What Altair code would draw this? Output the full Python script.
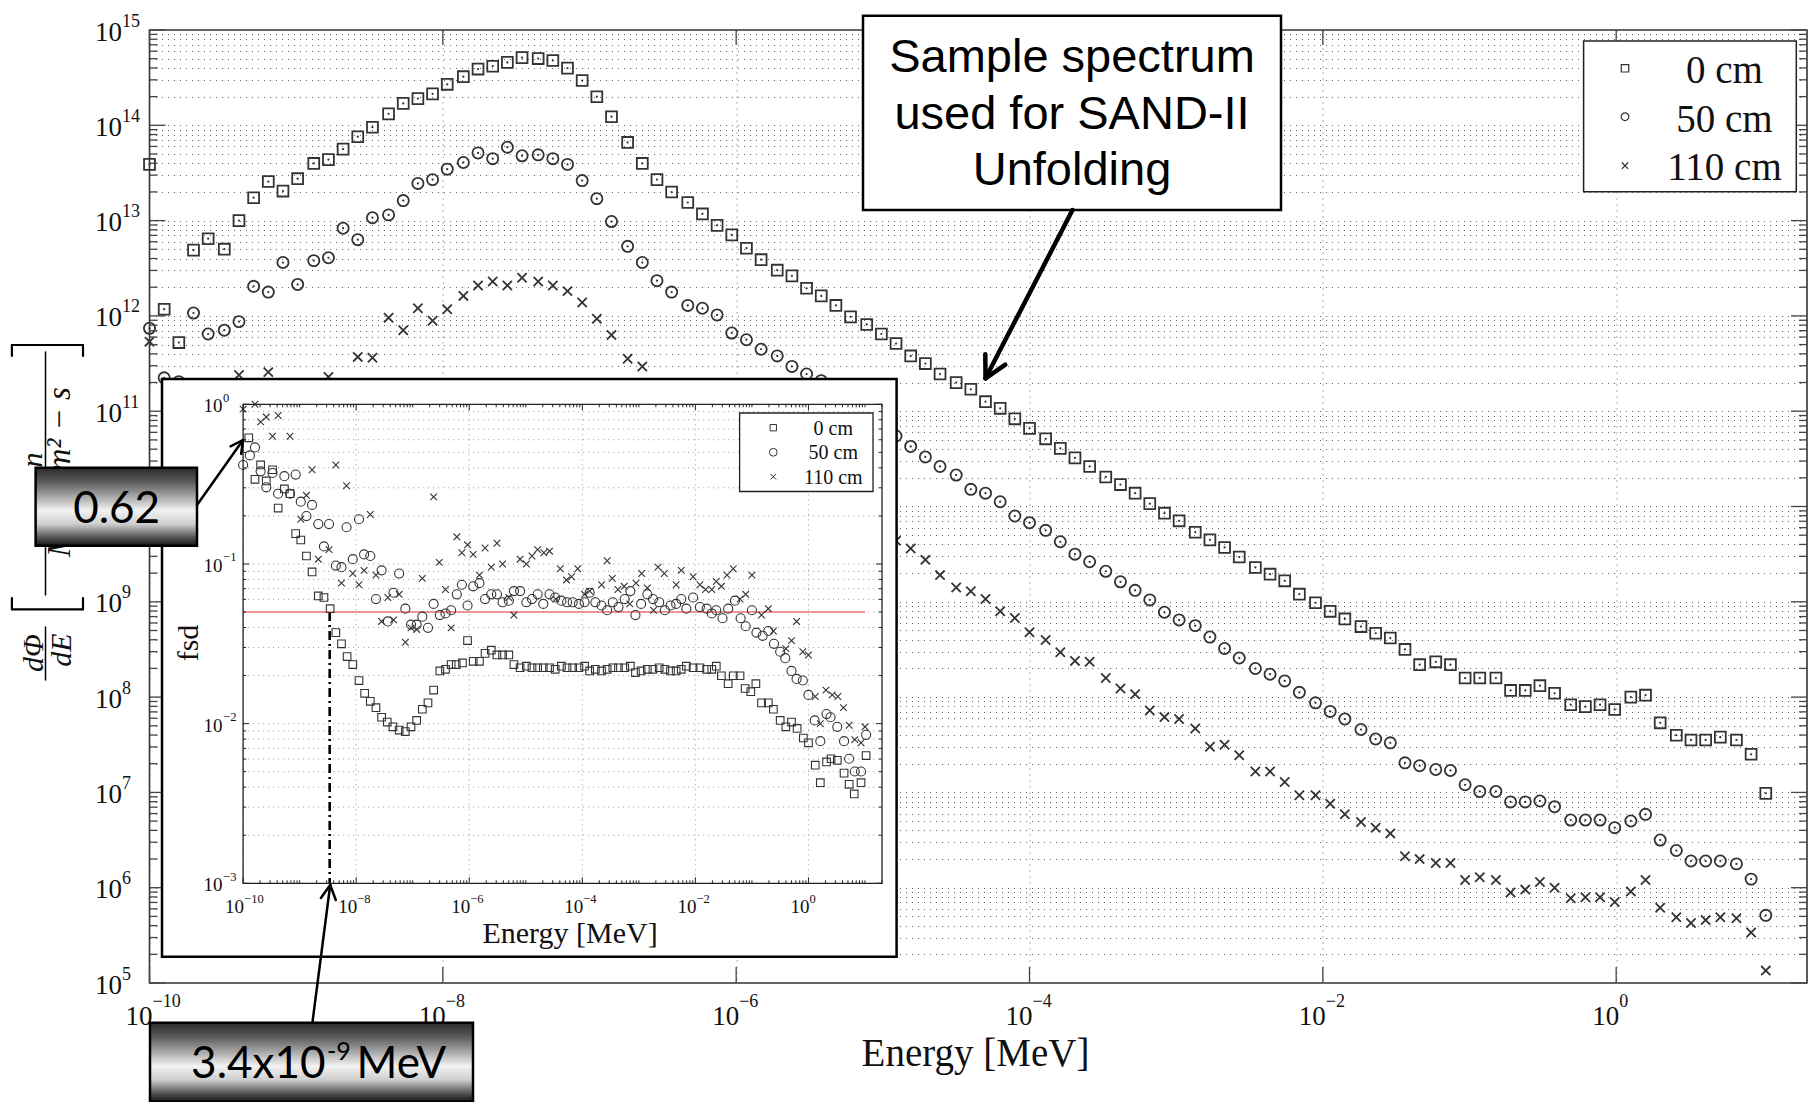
import altair as alt
import pandas as pd

# ---------------- values ----------------
# main spectrum: log10(E / MeV) grid shared by the three series
MAIN_LOG_E = [
    -10.00, -9.90, -9.80, -9.70, -9.60, -9.49, -9.39, -9.29, -9.19, -9.09,
    -8.99, -8.88, -8.78, -8.68, -8.58, -8.48, -8.37, -8.27, -8.17, -8.07,
    -7.97, -7.86, -7.76, -7.66, -7.56, -7.46, -7.35, -7.25, -7.15, -7.05,
    -6.95, -6.85, -6.74, -6.64, -6.54, -6.44, -6.33, -6.23, -6.13, -6.03,
    -5.93, -5.83, -5.72, -5.62, -5.52, -5.42, -5.32, -5.22, -5.11, -5.01,
    -4.91, -4.81, -4.71, -4.61, -4.50, -4.40, -4.30, -4.20, -4.10, -4.00,
    -3.89, -3.79, -3.69, -3.59, -3.48, -3.38, -3.28, -3.18, -3.08, -2.98,
    -2.87, -2.77, -2.67, -2.57, -2.46, -2.36, -2.26, -2.16, -2.05, -1.95,
    -1.85, -1.74, -1.64, -1.54, -1.44, -1.34, -1.23, -1.13, -1.03, -0.93,
    -0.82, -0.72, -0.62, -0.52, -0.42, -0.31, -0.21, -0.11, -0.01, 0.10,
    0.20, 0.30, 0.41, 0.51, 0.61, 0.71, 0.82, 0.92, 1.02,
]
# log10 of dPhi/dE ; None = hidden behind the inset
MAIN_LOG_0CM = [
    13.59, 12.07, 11.72, 12.69, 12.81, 12.70, 13.00, 13.24, 13.41, 13.31,
    13.44, 13.60, 13.64, 13.75, 13.88, 13.98, 14.12, 14.23, 14.28, 14.33,
    14.43, 14.51, 14.59, 14.62, 14.66, 14.71, 14.70, 14.68, 14.60, 14.47,
    14.30, 14.09, 13.82, 13.60, 13.43, 13.30, 13.19, 13.07, 12.95, 12.85,
    12.71, 12.59, 12.48, 12.42, 12.29, 12.21, 12.11, 11.99, 11.91, 11.81,
    11.71, 11.58, 11.50, 11.39, 11.30, 11.23, 11.10, 11.03, 10.92, 10.82,
    10.71, 10.61, 10.51, 10.42, 10.31, 10.23, 10.14, 10.03, 9.93, 9.85,
    9.73, 9.65, 9.57, 9.47, 9.36, 9.29, 9.22, 9.08, 8.99, 8.90,
    8.82, 8.74, 8.67, 8.62, 8.50, 8.34, 8.37, 8.34, 8.20, 8.20,
    8.20, 8.07, 8.07, 8.12, 8.04, 7.92, 7.90, 7.92, 7.87, 8.00,
    8.02, 7.73, 7.60, 7.55, 7.55, 7.58, 7.55, 7.40, 6.99,
]
MAIN_LOG_50CM = [
    11.87, 11.35, 11.31, 12.03, 11.81, 11.85, 11.94, 12.31, 12.25, 12.56,
    12.33, 12.58, 12.61, 12.92, 12.80, 13.03, 13.06, 13.21, 13.39, 13.43,
    13.54, 13.61, 13.71, 13.65, 13.77, 13.68, 13.69, 13.65, 13.59, 13.42,
    13.23, 12.99, 12.73, 12.56, 12.37, 12.25, 12.11, 12.08, 12.01, 11.82,
    11.75, 11.65, 11.58, 11.47, 11.39, 11.32, None, None, None, None,
    10.74, 10.63, 10.52, 10.42, 10.33, 10.18, 10.14, 10.05, 9.90, 9.83,
    9.75, 9.63, 9.50, 9.42, 9.32, 9.21, 9.12, 9.02, 8.89, 8.81,
    8.75, 8.63, 8.51, 8.41, 8.30, 8.24, 8.17, 8.05, 7.94, 7.85,
    7.77, 7.66, 7.56, 7.52, 7.31, 7.28, 7.24, 7.23, 7.08, 7.01,
    7.01, 6.90, 6.90, 6.91, 6.85, 6.71, 6.71, 6.71, 6.63, 6.70,
    6.77, 6.50, 6.39, 6.28, 6.28, 6.28, 6.25, 6.09, 5.71,
]
MAIN_LOG_110CM = [
    11.73, None, None, None, None, None, 11.38, None, 11.41, None,
    None, None, 11.36, None, 11.57, 11.56, 11.98, 11.85, 12.08, 11.95,
    12.07, 12.21, 12.32, 12.36, 12.32, 12.40, 12.36, 12.32, 12.26, 12.14,
    11.97, 11.80, 11.55, 11.47, None, None, None, None, None, None,
    None, None, None, None, None, None, None, None, None, None,
    9.64, 9.56, 9.44, 9.28, 9.15, 9.11, 9.03, 8.90, 8.83, 8.68,
    8.60, 8.47, 8.38, 8.37, 8.20, 8.09, 8.03, 7.86, 7.79, 7.77,
    7.67, 7.48, 7.50, 7.39, 7.22, 7.22, 7.11, 6.97, 6.97, 6.88,
    6.77, 6.69, 6.63, 6.57, 6.33, 6.30, 6.26, 6.26, 6.08, 6.11,
    6.08, 5.95, 5.98, 6.06, 6.00, 5.89, 5.90, 5.90, 5.85, 5.96,
    6.08, 5.79, 5.69, 5.63, 5.66, 5.69, 5.68, 5.53, 5.13,
]

# inset: fractional standard deviation (log10 E, log10 fsd)
INSET_0CM_LOG_E = [
    -9.90, -9.79, -9.69, -9.59, -9.48, -9.38, -9.27, -9.17, -9.07, -8.98,
    -8.88, -8.78, -8.67, -8.57, -8.46, -8.36, -8.26, -8.16, -8.06, -7.95,
    -7.85, -7.75, -7.65, -7.55, -7.45, -7.35, -7.24, -7.13, -7.03, -6.93,
    -6.83, -6.73, -6.63, -6.52, -6.42, -6.32, -6.23, -6.12, -6.03, -5.93,
    -5.82, -5.72, -5.61, -5.51, -5.41, -5.30, -5.21, -5.10, -4.99, -4.89,
    -4.79, -4.69, -4.58, -4.48, -4.37, -4.27, -4.17, -4.06, -3.96, -3.87,
    -3.77, -3.66, -3.56, -3.46, -3.36, -3.25, -3.15, -3.06, -2.96, -2.85,
    -2.75, -2.64, -2.54, -2.44, -2.34, -2.25, -2.16, -2.04, -1.92, -1.80,
    -1.71, -1.63, -1.54, -1.42, -1.33, -1.21, -1.12, -1.02, -0.93, -0.83,
    -0.71, -0.62, -0.50, -0.40, -0.30, -0.20, -0.09, 0.00, 0.12, 0.21,
    0.32, 0.40, 0.51, 0.63, 0.72, 0.81, 0.93, 1.02,
]
INSET_0CM_LOG_FSD = [
    -0.21, -0.47, -0.38, -0.48, -0.41, -0.65, -0.53, -0.56, -0.81, -0.85,
    -0.95, -1.05, -1.20, -1.21, -1.28, -1.43, -1.50, -1.58, -1.63, -1.73,
    -1.81, -1.86, -1.90, -1.96, -1.99, -2.02, -2.04, -2.05, -2.02, -1.98,
    -1.91, -1.87, -1.79, -1.67, -1.66, -1.63, -1.63, -1.62, -1.48, -1.61,
    -1.61, -1.56, -1.54, -1.57, -1.57, -1.57, -1.63, -1.65, -1.64, -1.65,
    -1.65, -1.65, -1.65, -1.66, -1.64, -1.65, -1.65, -1.65, -1.64, -1.67,
    -1.66, -1.67, -1.66, -1.65, -1.65, -1.65, -1.64, -1.68, -1.67, -1.66,
    -1.66, -1.65, -1.66, -1.67, -1.67, -1.66, -1.64, -1.65, -1.65, -1.66,
    -1.66, -1.64, -1.70, -1.75, -1.70, -1.70, -1.78, -1.80, -1.75, -1.87,
    -1.87, -1.91, -1.98, -2.02, -1.99, -2.03, -2.09, -2.12, -2.26, -2.37,
    -2.24, -2.22, -2.23, -2.31, -2.38, -2.44, -2.37, -2.20,
]
INSET_50CM_LOG_E = [
    -10.00, -9.88, -9.79, -9.69, -9.59, -9.48, -9.38, -9.27, -9.17, -9.07,
    -8.98, -8.88, -8.78, -8.67, -8.57, -8.48, -8.36, -8.26, -8.17, -8.06,
    -7.95, -7.86, -7.75, -7.65, -7.55, -7.44, -7.34, -7.24, -7.13, -7.03,
    -6.93, -6.83, -6.73, -6.63, -6.52, -6.42, -6.32, -6.22, -6.13, -6.03,
    -5.93, -5.82, -5.72, -5.61, -5.51, -5.41, -5.30, -5.21, -5.10, -4.99,
    -4.89, -4.79, -4.69, -4.58, -4.48, -4.37, -4.27, -4.17, -4.06, -3.96,
    -3.87, -3.77, -3.66, -3.56, -3.46, -3.36, -3.25, -3.15, -3.06, -2.96,
    -2.85, -2.75, -2.64, -2.54, -2.44, -2.34, -2.25, -2.16, -2.04, -1.92,
    -1.80, -1.71, -1.63, -1.52, -1.42, -1.30, -1.20, -1.11, -1.00, -0.92,
    -0.81, -0.71, -0.61, -0.50, -0.41, -0.30, -0.21, -0.10, 0.00, 0.11,
    0.21, 0.32, 0.39, 0.51, 0.63, 0.72, 0.82, 0.93, 1.02,
]
INSET_50CM_LOG_FSD = [
    -0.38, -0.32, -0.27, -0.42, -0.52, -0.43, -0.56, -0.45, -0.56, -0.44,
    -0.61, -0.70, -0.63, -0.75, -0.89, -0.75, -1.01, -1.02, -0.77, -0.97,
    -0.72, -0.94, -0.95, -1.22, -1.04, -1.36, -1.18, -1.06, -1.28, -1.38,
    -1.38, -1.33, -1.40, -1.25, -1.32, -1.31, -1.29, -1.19, -1.13, -1.26,
    -1.14, -1.12, -1.22, -1.19, -1.19, -1.24, -1.23, -1.17, -1.17, -1.24,
    -1.22, -1.19, -1.25, -1.19, -1.21, -1.23, -1.24, -1.24, -1.25, -1.24,
    -1.18, -1.24, -1.26, -1.29, -1.24, -1.27, -1.22, -1.17, -1.32, -1.25,
    -1.19, -1.22, -1.24, -1.29, -1.26, -1.25, -1.22, -1.28, -1.21, -1.27,
    -1.28, -1.31, -1.29, -1.34, -1.28, -1.23, -1.34, -1.39, -1.29, -1.43,
    -1.45, -1.42, -1.50, -1.55, -1.59, -1.67, -1.72, -1.73, -1.82, -1.98,
    -2.11, -1.94, -1.96, -2.02, -2.11, -2.22, -2.30, -2.30, -2.07,
]
INSET_110CM_LOG_E = [
    -10.00, -9.79, -9.69, -9.59, -9.48, -9.38, -9.17, -8.98, -8.88, -8.78,
    -8.67, -8.48, -8.36, -8.26, -8.17, -8.06, -7.95, -7.86, -7.75, -7.65,
    -7.55, -7.44, -7.34, -7.24, -7.13, -7.03, -6.93, -6.83, -6.63, -6.53,
    -6.42, -6.32, -6.22, -6.13, -6.03, -5.93, -5.82, -5.72, -5.61, -5.51,
    -5.41, -5.30, -5.21, -5.10, -4.99, -4.89, -4.79, -4.68, -4.58, -4.47,
    -4.39, -4.28, -4.19, -4.08, -3.96, -3.87, -3.66, -3.56, -3.47, -3.37,
    -3.26, -3.16, -3.05, -2.95, -2.85, -2.74, -2.66, -2.55, -2.34, -2.25,
    -2.04, -1.92, -1.82, -1.71, -1.63, -1.54, -1.44, -1.33, -1.21, -1.11,
    -1.00, -0.83, -0.71, -0.62, -0.40, -0.30, -0.21, -0.10, 0.00, 0.12,
    0.21, 0.31, 0.42, 0.52, 0.62, 0.72, 0.82, 0.93, 1.00,
]
INSET_110CM_LOG_FSD = [
    -0.03, -0.00, -0.11, -0.08, -0.20, -0.07, -0.20, -0.72, -0.57, -0.41,
    -0.97, -0.91, -0.38, -1.12, -0.51, -1.06, -1.13, -1.04, -0.69, -1.07,
    -1.36, -1.21, -1.35, -1.19, -1.49, -1.40, -1.41, -1.09, -0.58, -0.99,
    -1.16, -1.40, -0.83, -0.93, -0.88, -0.94, -1.07, -0.90, -1.02, -0.87,
    -1.00, -1.21, -1.32, -0.97, -1.00, -0.95, -0.91, -0.93, -0.92, -1.22,
    -1.03, -1.10, -1.08, -1.03, -1.19, -1.17, -1.13, -0.98, -1.09, -1.16,
    -1.14, -1.25, -1.12, -1.06, -1.15, -1.29, -1.02, -1.06, -1.13, -1.04,
    -1.08, -1.13, -1.16, -1.16, -1.11, -1.14, -1.07, -1.03, -1.22, -1.19,
    -1.07, -1.32, -1.28, -1.42, -1.53, -1.48, -1.36, -1.55, -1.57, -1.83,
    -2.00, -1.79, -1.82, -1.83, -1.90, -2.01, -2.10, -2.12, -2.02,
]

SERIES_NAMES = ["0 cm", "50 cm", "110 cm"]
FSD_LIMIT = [0.05]
FSD_LIMIT_E = [1e-10, 10.0]
CROSS_E = [3.4e-9]
FSD_FLOOR = [1e-3]

X_MAJOR_VALUES = [1e-10, 1e-8, 1e-6, 1e-4, 1e-2, 1.0]
X_EXP_LABELS = ["\u221210", "\u22128", "\u22126", "\u22124", "\u22122", "0"]
Y_MAJOR_EXP = [5, 6, 7, 8, 9, 10, 11, 12, 13, 14, 15]
# the 10^10 label sits under the "0.62" call-out box in the picture, so it is not shown
Y_LABEL_EXP = [5, 6, 7, 8, 9, 11, 12, 13, 14, 15]
Y_EXP_LABELS = ["5", "6", "7", "8", "9", "11", "12", "13", "14", "15"]
INSET_Y_MAJOR_EXP = [-3, -2, -1, 0]
INSET_Y_EXP_LABELS = ["\u22123", "\u22122", "\u22121", "0"]

MAIN_X_TITLE = "Energy [MeV]"
INSET_X_TITLE = "Energy [MeV]"
INSET_Y_TITLE = "fsd"
NOTE_LINES = ["Sample spectrum", "used for SAND-II", "Unfolding"]
NOTE_FSD = "0.62"
NOTE_E = ["3.4x10", "-9", "MeV"]

# ---------------- tables ----------------
def series(loge, logv):
    rows = [{"E": 10.0 ** e, "V": 10.0 ** v} for e, v in zip(loge, logv) if v is not None]
    return pd.DataFrame(rows)

m0 = series(MAIN_LOG_E, MAIN_LOG_0CM)
m50 = series(MAIN_LOG_E, MAIN_LOG_50CM)
m110 = series(MAIN_LOG_E, MAIN_LOG_110CM)
i0 = series(INSET_0CM_LOG_E, INSET_0CM_LOG_FSD)
i50 = series(INSET_50CM_LOG_E, INSET_50CM_LOG_FSD)
i110 = series(INSET_110CM_LOG_E, INSET_110CM_LOG_FSD)

x_major = pd.DataFrame({"E": X_MAJOR_VALUES, "lab": X_EXP_LABELS})
y_major = pd.DataFrame({"V": [10.0 ** k for k in Y_MAJOR_EXP]})
y_labels = pd.DataFrame({"V": [10.0 ** k for k in Y_LABEL_EXP], "lab": Y_EXP_LABELS})
y_minor = pd.DataFrame({"V": [m * 10.0 ** k for k in range(5, 15) for m in range(2, 10)]})
y_grid_values = sorted(list(y_major["V"]) + list(y_minor["V"]))

ix_minor = pd.DataFrame({"E": [m * 10.0 ** k for k in range(-10, 2) for m in range(1, 10)
                               if (m > 1 or k % 2 != 0) and m * 10.0 ** k <= 20]})
iy_major = pd.DataFrame({"V": [10.0 ** k for k in INSET_Y_MAJOR_EXP], "lab": INSET_Y_EXP_LABELS})
iy_minor = pd.DataFrame({"V": [m * 10.0 ** k for k in range(-3, 0) for m in range(2, 10)]})
iy_all = pd.DataFrame({"V": sorted(list(iy_major["V"]) + list(iy_minor["V"]))})
limit_df = pd.DataFrame({"E": [FSD_LIMIT_E[0]], "E2": [FSD_LIMIT_E[1]], "V": FSD_LIMIT})
cross_df = pd.DataFrame({"E": CROSS_E, "V": FSD_LIMIT, "V2": FSD_FLOOR})
ONE = pd.DataFrame({"k": [0]})

# ---------------- layout ----------------
W, H = 1657.5, 953
IN_L, IN_R, IN_T, IN_B = 93.6, 732.5, 374.3, 853.3
SERIF = "Liberation Serif"
SANS = "Liberation Sans"
GILL = "Lato"
INK = "#333333"
TXT = "#111111"
X_PATH = "M-1,-1L1,1M-1,1L1,-1"

XS_MAIN = alt.Scale(type="log", domain=[1e-10, 20], range=[0, W], nice=False)
YS_MAIN = alt.Scale(type="log", domain=[1e5, 1e15], range=[H, 0], nice=False)
XS_IN = alt.Scale(type="log", domain=[1e-10, 20], range=[IN_L, IN_R], nice=False)
YS_IN = alt.Scale(type="log", domain=[1e-3, 1], range=[IN_B, IN_T], nice=False)

GRID = dict(grid=True, gridDash=[1, 5], gridColor="#666666", gridWidth=1,
            labels=False, ticks=False, domain=False)
AX_X = alt.Axis(values=X_MAJOR_VALUES, **GRID)
AX_Y = alt.Axis(values=y_grid_values, **GRID)


def mx(f="E"):
    return alt.X(f"{f}:Q", scale=XS_MAIN, axis=AX_X, title=None)


def my(f="V"):
    return alt.Y(f"{f}:Q", scale=YS_MAIN, axis=AX_Y, title=None)


def ix(f="E"):
    return alt.X(f"{f}:Q", scale=XS_IN, axis=None, title=None)


def iy(f="V"):
    return alt.Y(f"{f}:Q", scale=YS_IN, axis=None, title=None)


def ptext(s, x, y, size, font, align="left", angle=None, italic=False, color=TXT):
    kw = dict(text=s, font=font, fontSize=size, align=align, baseline="alphabetic", color=color)
    if angle is not None:
        kw["angle"] = angle
    if italic:
        kw["fontStyle"] = "italic"
    return alt.Chart(ONE).mark_text(**kw).encode(x=alt.value(x), y=alt.value(y))


def prule(x1, y1, x2, y2, width=1.5, color="#000000", dash=None):
    kw = dict(color=color, strokeWidth=width, strokeCap="round")
    if dash:
        kw["strokeDash"] = dash
    return alt.Chart(ONE).mark_rule(**kw).encode(
        x=alt.value(x1), y=alt.value(y1), x2=alt.value(x2), y2=alt.value(y2))


def prect(x1, y1, x2, y2, fill="white", stroke="#000000", sw=1.5, fill_opacity=1):
    return alt.Chart(ONE).mark_rect(fill=fill, stroke=stroke, strokeWidth=sw,
                                    fillOpacity=fill_opacity).encode(
        x=alt.value(x1), x2=alt.value(x2), y=alt.value(y1), y2=alt.value(y2))


def psym(shape, x, y, size, width=1.2, color=INK):
    return alt.Chart(ONE).mark_point(shape=shape, filled=False, size=size, color=color,
                                     strokeWidth=width, opacity=1).encode(
        x=alt.value(x), y=alt.value(y))


# ---------------- main panel ----------------
tick_kw = dict(color="#444444", strokeWidth=1.3)
main_layers = [
    alt.Chart(m0).mark_point(shape="square", filled=False, size=118, color=INK,
                             strokeWidth=1.8, opacity=1).encode(x=mx(), y=my()),
    alt.Chart(m50).mark_point(shape="circle", filled=False, size=125, color=INK,
                              strokeWidth=1.8, opacity=1).encode(x=mx(), y=my()),
    alt.Chart(pd.concat([m0, m50])).mark_point(shape="circle", filled=True, size=5,
                                               color=INK, opacity=1).encode(x=mx(), y=my()),
    alt.Chart(m110).mark_point(shape=X_PATH, filled=False, size=85, color=INK,
                               strokeWidth=1.8, opacity=1).encode(x=mx(), y=my()),
    # inward ticks
    alt.Chart(x_major).mark_rule(**tick_kw).encode(x=mx(), y=alt.value(H), y2=alt.value(H - 16)),
    alt.Chart(x_major).mark_rule(**tick_kw).encode(x=mx(), y=alt.value(0), y2=alt.value(15)),
    alt.Chart(y_major).mark_rule(**tick_kw).encode(y=my(), x=alt.value(0), x2=alt.value(16)),
    alt.Chart(y_minor).mark_rule(**tick_kw).encode(y=my(), x=alt.value(0), x2=alt.value(8)),
    alt.Chart(y_major).mark_rule(**tick_kw).encode(y=my(), x=alt.value(W), x2=alt.value(W - 16)),
    alt.Chart(y_minor).mark_rule(**tick_kw).encode(y=my(), x=alt.value(W), x2=alt.value(W - 8)),
    # tick labels
    alt.Chart(x_major).mark_text(text="10", font=SERIF, fontSize=27, align="right", dx=3,
                                 baseline="alphabetic", color=TXT).encode(x=mx(), y=alt.value(H + 42)),
    alt.Chart(x_major).mark_text(font=SERIF, fontSize=18, align="left", dx=3,
                                 baseline="alphabetic", color=TXT).encode(
        x=mx(), y=alt.value(H + 24), text="lab:N"),
    alt.Chart(y_labels).mark_text(text="10", font=SERIF, fontSize=27, align="left", dy=10.5,
                                  baseline="alphabetic", color=TXT).encode(y=my(), x=alt.value(-54.5)),
    alt.Chart(y_labels).mark_text(font=SERIF, fontSize=18, align="left", dy=-3.5,
                                  baseline="alphabetic", color=TXT).encode(
        y=my(), x=alt.value(-27.5), text="lab:N"),
    ptext(MAIN_X_TITLE, 826, 1036, 39, SERIF, align="center"),
    # legend
    prect(1434.1, 11, 1646.8, 161.7, sw=1.5, stroke="#222222"),
    psym("square", 1475.5, 38.3, 55),
    psym("circle", 1475.5, 86.7, 60),
    psym(X_PATH, 1475.5, 135.7, 40),
    ptext(SERIES_NAMES[0], 1575, 53.3, 39, SERIF, align="center"),
    ptext(SERIES_NAMES[1], 1575, 101.7, 39, SERIF, align="center"),
    ptext(SERIES_NAMES[2], 1575, 150.0, 39, SERIF, align="center"),
]
main = alt.layer(*main_layers)

# ---------------- inset panel ----------------
itick = dict(color="#222222", strokeWidth=1)
inset_layers = [
    prect(12.5, 349, 747.1, 926.7, sw=2.5, stroke="#000000"),
    alt.Chart(iy_all).mark_rule(color="#9a9a9a", strokeWidth=1, strokeDash=[1, 4]).encode(
        y=iy(), x=alt.value(IN_L), x2=alt.value(IN_R)),
    alt.Chart(x_major).mark_rule(color="#9a9a9a", strokeWidth=1, strokeDash=[1, 4]).encode(
        x=ix(), y=alt.value(IN_T), y2=alt.value(IN_B)),
    alt.Chart(limit_df).mark_rule(color="#ee7272", strokeWidth=1.6).encode(
        x=ix(), x2="E2:Q", y=iy()),
    alt.Chart(cross_df).mark_rule(color="#000000", strokeWidth=2.6, strokeDash=[9, 4, 2, 4]).encode(
        x=ix(), y=iy(), y2="V2:Q"),
    alt.Chart(i0).mark_point(shape="square", filled=False, size=58, color="#333333",
                             strokeWidth=1.1, opacity=1).encode(x=ix(), y=iy()),
    alt.Chart(i50).mark_point(shape="circle", filled=False, size=82, color="#333333",
                              strokeWidth=1.1, opacity=1).encode(x=ix(), y=iy()),
    alt.Chart(i110).mark_point(shape=X_PATH, filled=False, size=44, color="#333333",
                               strokeWidth=1.1, opacity=1).encode(x=ix(), y=iy()),
    prect(IN_L, IN_T, IN_R, IN_B, fill="white", fill_opacity=0, stroke="#222222", sw=1.3),
    alt.Chart(x_major).mark_rule(**itick).encode(x=ix(), y=alt.value(IN_B), y2=alt.value(IN_B - 6)),
    alt.Chart(x_major).mark_rule(**itick).encode(x=ix(), y=alt.value(IN_T), y2=alt.value(IN_T + 6)),
    alt.Chart(ix_minor).mark_rule(**itick).encode(x=ix(), y=alt.value(IN_B), y2=alt.value(IN_B - 3)),
    alt.Chart(ix_minor).mark_rule(**itick).encode(x=ix(), y=alt.value(IN_T), y2=alt.value(IN_T + 3)),
    alt.Chart(iy_major).mark_rule(**itick).encode(y=iy(), x=alt.value(IN_L), x2=alt.value(IN_L + 6)),
    alt.Chart(iy_minor).mark_rule(**itick).encode(y=iy(), x=alt.value(IN_L), x2=alt.value(IN_L + 3)),
    alt.Chart(iy_major).mark_rule(**itick).encode(y=iy(), x=alt.value(IN_R), x2=alt.value(IN_R - 6)),
    alt.Chart(iy_minor).mark_rule(**itick).encode(y=iy(), x=alt.value(IN_R), x2=alt.value(IN_R - 3)),
    alt.Chart(x_major).mark_text(text="10", font=SERIF, fontSize=19, align="right", dx=1,
                                 baseline="alphabetic", color=TXT).encode(x=ix(), y=alt.value(IN_B + 30)),
    alt.Chart(x_major).mark_text(font=SERIF, fontSize=12.5, align="left", dx=1,
                                 baseline="alphabetic", color=TXT).encode(
        x=ix(), y=alt.value(IN_B + 19.5), text="lab:N"),
    alt.Chart(iy_major).mark_text(text="10", font=SERIF, fontSize=19, align="left", dy=8,
                                  baseline="alphabetic", color=TXT).encode(y=iy(), x=alt.value(54.1)),
    alt.Chart(iy_major).mark_text(font=SERIF, fontSize=12.5, align="left", dy=-2.5,
                                  baseline="alphabetic", color=TXT).encode(
        y=iy(), x=alt.value(73.6), text="lab:N"),
    ptext(INSET_X_TITLE, 420.5, 913, 30, SERIF, align="center"),
    ptext(INSET_Y_TITLE, 48, 613, 30, SERIF, align="center", angle=270),
    prect(590.1, 383, 723.5, 461.5, sw=1.3, stroke="#222222"),
    psym("square", 623.8, 397.7, 40, width=1),
    psym("circle", 623.8, 422.3, 60, width=1),
    psym(X_PATH, 623.8, 446.7, 30, width=1),
    ptext(SERIES_NAMES[0], 683.8, 405, 20, SERIF, align="center"),
    ptext(SERIES_NAMES[1], 683.8, 429.3, 20, SERIF, align="center"),
    ptext(SERIES_NAMES[2], 683.8, 454.3, 20, SERIF, align="center"),
]
inset = alt.layer(*inset_layers)

# ---------------- y title (fraction, drawn rotated) ----------------
ytitle_layers = [
    ptext("d\u03a6", -106.5, 623, 30, SERIF, align="center", angle=270, italic=True),
    prule(-104, 597, -104, 650, 1.5),
    ptext("dE", -78.5, 620, 30, SERIF, align="center", angle=270, italic=True),
    prule(-137.6, 579.3, -66.5, 579.3, 2.2),
    prule(-137.6, 568, -137.6, 579.3, 2.2),
    prule(-66.5, 568, -66.5, 579.3, 2.2),
    prule(-137.6, 315, -66.5, 315, 2.2),
    prule(-137.6, 315, -137.6, 326, 2.2),
    prule(-66.5, 315, -66.5, 326, 2.2),
    ptext("n", -107.5, 430, 30, SERIF, align="center", angle=270, italic=True),
    prule(-104, 322, -104, 565, 1.5),
    ptext("MeV  cm\u00b2  \u2212  s", -79.5, 442, 33, SERIF, align="center", angle=270, italic=True),
]

# ---------------- call-outs ----------------
metal = alt.LinearGradient(
    gradient="linear", x1=0, x2=0, y1=0, y2=1,
    stops=[alt.GradientStop(offset=0, color="#2a2a2a"),
           alt.GradientStop(offset=0.18, color="#5a5a5a"),
           alt.GradientStop(offset=0.55, color="#f2f2f2"),
           alt.GradientStop(offset=0.72, color="#cfcfcf"),
           alt.GradientStop(offset=0.9, color="#505050"),
           alt.GradientStop(offset=1, color="#151515")])

callout_layers = [
    # sample spectrum note
    prect(713.5, -14.3, 1131.5, 180, sw=2.5, stroke="#000000"),
    ptext(NOTE_LINES[0], 922.5, 42, 47, SANS, align="center", color="#000000"),
    ptext(NOTE_LINES[1], 922.5, 98.5, 47, SANS, align="center", color="#000000"),
    ptext(NOTE_LINES[2], 922.5, 155, 47, SANS, align="center", color="#000000"),
    prule(923, 180, 836, 348.3, 4.5),
    prule(836, 348.3, 835.8, 324.3, 4.5),
    prule(836, 348.3, 855.8, 334.7, 4.5),
    # 0.62 call-out
    alt.Chart(ONE).mark_rect(fill=metal, stroke="#000000", strokeWidth=2.5).encode(
        x=alt.value(-113.9), x2=alt.value(47.5), y=alt.value(437.7), y2=alt.value(515.7)),
    ptext(NOTE_FSD, -32.9, 493.3, 44, GILL, align="center", color="#000000"),
    prule(47.5, 475, 93.5, 410, 2.5),
    prule(93.5, 410, 91.7, 423.9, 2.5),
    prule(93.5, 410, 81, 416.3, 2.5),
    # 3.4x10^-9 MeV call-out
    alt.Chart(ONE).mark_rect(fill=metal, stroke="#000000", strokeWidth=2.5).encode(
        x=alt.value(0.5), x2=alt.value(323.5), y=alt.value(992.7), y2=alt.value(1071.7)),
    ptext(NOTE_E[0], 176, 1048.3, 44, GILL, align="right", color="#000000"),
    ptext(NOTE_E[1], 177.5, 1030, 25, GILL, align="left", color="#000000"),
    ptext(NOTE_E[2], 207, 1048.3, 44, GILL, align="left", color="#000000"),
    prule(162.9, 992.7, 180.7, 855, 2.5),
    prule(180.7, 855, 186.3, 870, 2.5),
    prule(180.7, 855, 171.4, 868, 2.5),
]

chart = alt.layer(
    main, inset, alt.layer(*ytitle_layers), alt.layer(*callout_layers)
).resolve_scale(x="independent", y="independent").properties(
    width=W, height=H,
    padding={"left": 149.5, "top": 30, "right": 10, "bottom": 119},
    autosize=alt.AutoSizeParams(type="none"),
    background="white",
).configure_view(stroke="#333333", strokeWidth=1.6)

chart.save("out.html", embed_options={"renderer": "svg", "actions": False})
